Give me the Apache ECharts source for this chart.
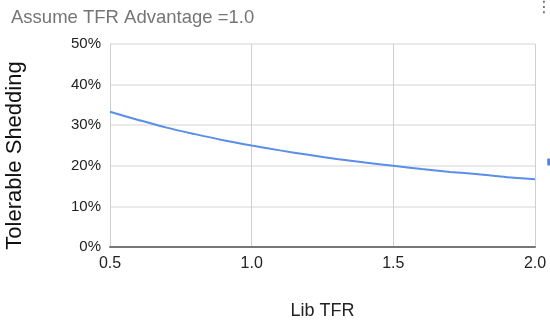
<!DOCTYPE html>
<html><head><meta charset="utf-8">
<script src="https://cdn.jsdelivr.net/npm/echarts@6/dist/echarts.min.js"></script>
<style>html,body{margin:0;padding:0;background:#fff}#c{width:550px;height:323px}</style>
</head><body><div id="c"></div>
<script>
const libTFR = [0.5,0.6,0.7,0.8,0.9,1.0,1.1,1.2,1.3,1.4,1.5,1.6,1.7,1.8,1.9,2.0];
const shedding = [0.333,0.313,0.294,0.278,0.263,0.250,0.238,0.227,0.217,0.208,0.200,0.192,0.185,0.179,0.172,0.167];
const xTicks = [0.5,1.0,1.5,2.0];
const yTicks = [0,0.1,0.2,0.3,0.4,0.5];
const seriesName = 'Tolerable Shedding';

const chart = echarts.init(document.getElementById('c'), null, {renderer:'canvas'});
chart.setOption({
  animation:false,
  title:{text:'Assume TFR Advantage =1.0', left:6, top:3,
    textStyle:{color:'#757575', fontSize:18.5, fontWeight:'normal', fontFamily:'Liberation Sans, Arial, sans-serif'}},
  graphic:[{type:'text', left:536, top:0, style:{text:'⋮', fill:'#666', fontSize:16, fontFamily:'DejaVu Sans'}}],
  legend:{show:true, orient:'vertical', right:-120, top:151, itemWidth:10, itemHeight:7, icon:'rect',
    itemGap:4, data:[seriesName], textStyle:{fontSize:12, color:'#222'}},
  grid:{left:110, right:15, top:44, bottom:76, containLabel:false, outerBoundsMode:'none'},
  xAxis:{type:'value', min:0.5, max:2.0, interval:0.5,
    name:'Lib TFR', nameLocation:'middle', nameGap:55,
    nameTextStyle:{color:'#222', fontSize:18, fontFamily:'Liberation Sans, Arial, sans-serif'},
    axisLine:{show:true, lineStyle:{color:'#777', width:2}},
    axisTick:{show:false},
    axisLabel:{color:'#222', fontSize:16, margin:9, fontFamily:'Liberation Sans, Arial, sans-serif',
      formatter:v=>v.toFixed(1), showMinLabel:true, showMaxLabel:true},
    splitLine:{show:true, lineStyle:{color:'#cfcfcf', width:1}}},
  yAxis:{type:'value', min:0, max:0.5, interval:0.1,
    name:'Tolerable Shedding', nameLocation:'middle', nameGap:84, nameRotate:90,
    nameTextStyle:{color:'#111', fontSize:22, fontFamily:'Liberation Sans, Arial, sans-serif', padding:[0,20,0,0]},
    axisLine:{show:true, lineStyle:{color:'#d0d0d0', width:1}},
    axisTick:{show:false},
    axisLabel:{color:'#222', fontSize:15, margin:9, fontFamily:'Liberation Sans, Arial, sans-serif',
      formatter:v=>Math.round(v*100)+'%'},
    splitLine:{show:true, lineStyle:{color:'#e3e3e3', width:1.5}}},
  series:[{name:seriesName, type:'line', smooth:0.3, showSymbol:false,
    data: libTFR.map((x,i)=>[x, shedding[i]]),
    lineStyle:{color:'#5a8ee8', width:2}, itemStyle:{color:'#4a86e8'}}]
});
</script></body></html>
